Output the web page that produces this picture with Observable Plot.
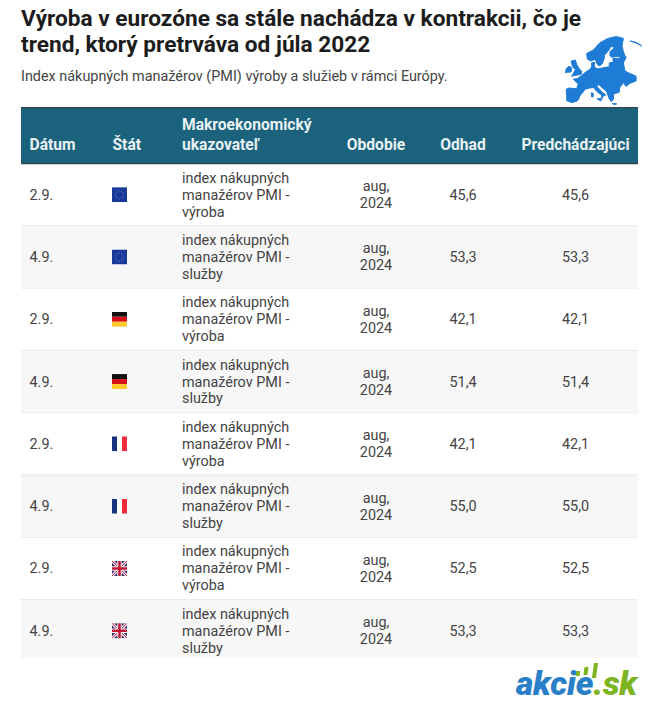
<!DOCTYPE html>
<html lang="sk">
<head>
<meta charset="utf-8">
<script src="https://cdn.jsdelivr.net/npm/d3@7"></script>
<script src="https://cdn.jsdelivr.net/npm/@observablehq/plot@0.6"></script>
<style>
  html, body { margin: 0; padding: 0; background: #fff; }
  body { width: 659px; height: 713px; position: relative; overflow: hidden; font-family: Roboto, sans-serif; }
  #head { height: 107px; box-sizing: border-box; padding: 6px 0 0 21px; }
  h1 { margin: 0; font: 700 22.65px/26px Roboto, sans-serif; color: #1c1c1c; width: 575px; }
  #sub { margin-top: 10px; font: 400 14.4px/18px Roboto, sans-serif; color: #444; }
  #map { position: absolute; left: 560px; top: 31px; }
  #chart svg { display: block; }
  #logo { position: absolute; left: 516px; top: 666px; font: italic 900 33.5px/36px Roboto, sans-serif; letter-spacing: -.2px; color: #2a80c8; white-space: nowrap; }
  #logo b { color: #7cb51f; font-weight: 900; }
  .bar { position: absolute; background: #7cb51f; width: 4px; transform: skewX(-8deg); }
</style>
</head>
<body>
<div id="head">
  <h1>Výroba v eurozóne sa stále nachádza v kontrakcii, čo je trend, ktorý pretrváva od júla 2022</h1>
  <div id="sub">Index nákupných manažérov (PMI) výroby a služieb v rámci Európy.</div>
</div>
<div id="map"></div>
<div id="chart"></div>
<div id="logo">akcie<b>.sk</b></div>
<div class="bar" style="left:576px;top:671px;height:5px"></div>
<div class="bar" style="left:584px;top:667px;height:8px"></div>
<div class="bar" style="left:593px;top:663px;height:15px"></div>
<script>
// ---- data ----
const columns = ["Dátum", "Štát", "Makroekonomický\nukazovateľ", "Obdobie", "Odhad", "Predchádzajúci"];
const dates = ["2.9.", "4.9.", "2.9.", "4.9.", "2.9.", "4.9.", "2.9.", "4.9."];
const countries = ["EU", "EU", "DE", "DE", "FR", "FR", "UK", "UK"];
const indicators = [
  "index nákupných\nmanažérov PMI -\nvýroba", "index nákupných\nmanažérov PMI -\nslužby",
  "index nákupných\nmanažérov PMI -\nvýroba", "index nákupných\nmanažérov PMI -\nslužby",
  "index nákupných\nmanažérov PMI -\nvýroba", "index nákupných\nmanažérov PMI -\nslužby",
  "index nákupných\nmanažérov PMI -\nvýroba", "index nákupných\nmanažérov PMI -\nslužby"
];
const period = "aug,\n2024";
const estimates = [45.6, 53.3, 42.1, 51.4, 42.1, 55.0, 52.5, 53.3];
const previous = [45.6, 53.3, 42.1, 51.4, 42.1, 55.0, 52.5, 53.3];

// Simplified outline of Europe, longitude / latitude
const mainland = [[-9,37],[-9.5,43],[-8,43.7],[-2,43.4],[-1,46],[-4.5,48.4],[-1.5,48.7],[1.5,50.5],[4,52],[7,53.5],[8.5,55],[8.5,57],[10.5,57.5],[10.5,55],[12,54],[14,54],[18.5,54.7],[21,55],[21,57],[24,57.5],[23.5,59.3],[28,59.5],[29.8,59.9],[27,60.5],[23,60],[21.5,60.8],[21.5,63],[25,65.2],[22,65.8],[21,64],[17.5,61],[17.5,59.5],[16,56.5],[14,55.4],[12.5,56.3],[11,59],[8,58],[5.5,59],[5,62],[10,64],[14,67.5],[20,70],[26,71],[31,70],[30,66],[31,63],[32,61],[33,60],[31,57],[32,53],[34,52],[40,50],[40,47.5],[35,46],[33,44.5],[31,46.5],[28.5,44],[28,41.5],[26,41],[24,40.5],[24,38],[22.5,36.5],[21,38],[19.5,41],[19,42],[15,44.5],[13.5,45.7],[12.3,44.5],[16,41.5],[18.5,40],[16.5,39.5],[16,38],[15.5,40],[12,42],[10,44],[7,43.7],[3.5,43],[3,42],[0,39.5],[-0.5,38],[-2,36.7],[-5.5,36],[-9,37]];
const britain = [[-5.5,50],[-3,53.5],[-5,55],[-6,58],[-3,58.5],[-2,56],[0,53.7],[1.5,52.5],[1,51],[-5.5,50]];
const ireland = [[-10,52],[-9.5,54],[-7.5,55.3],[-5.7,54.5],[-6,52.2],[-10,52]];
const sicily = [[12.5,38],[15.5,38.2],[15,36.8],[12.5,38]];
const sardinia = [[8.3,41],[9.7,41],[9.5,39],[8.5,39],[8.3,41]];
const crete = [[23.5,35.6],[26.3,35.3],[24,35],[23.5,35.6]];
const iceStreak = [[36,68.6],[40,67.6],[44,66],[40,67.9],[36,68.6]];
const landRings = [mainland, britain, ireland, sicily, sardinia, crete, iceStreak];

// ---- flags ----
const svgUri = (body) => "data:image/svg+xml," + encodeURIComponent(`<svg xmlns="http://www.w3.org/2000/svg" viewBox="0 0 15 15">${body}</svg>`);
const stars = d3.range(12).map((i) => `<circle cx="${7.5 + 4 * Math.cos(i * Math.PI / 6)}" cy="${7.5 + 4 * Math.sin(i * Math.PI / 6)}" r=".5" fill="#7f89b8"/>`).join("");
const flags = {
  EU: svgUri(`<rect width="15" height="15" fill="#17399b"/>${stars}`),
  DE: svgUri(`<rect width="15" height="5" fill="#111"/><rect y="5" width="15" height="5" fill="#d8101c"/><rect y="10" width="15" height="5" fill="#fdc92b"/>`),
  FR: svgUri(`<rect width="5" height="15" fill="#17307f"/><rect x="5" width="5" height="15" fill="#fff"/><rect x="10" width="5" height="15" fill="#ee2a3c"/>`),
  UK: svgUri(`<rect width="15" height="15" fill="#2d2a6e"/><path d="M0 0L15 15M15 0L0 15" stroke="#eee" stroke-width="3"/><path d="M0 0L15 15M15 0L0 15" stroke="#c8163a" stroke-width="1"/><path d="M7.5 0V15M0 7.5H15" stroke="#eee" stroke-width="4.5"/><path d="M7.5 0V15M0 7.5H15" stroke="#c8163a" stroke-width="2.5"/>`)
};

// ---- tables built from the arrays ----
const rows = dates.map((d, i) => ({
  i, date: d, country: countries[i], indicator: indicators[i], period,
  estimate: estimates[i].toFixed(1).replace(".", ","),
  prev: previous[i].toFixed(1).replace(".", ",")
}));
const headerCells = columns.map((label, col) => ({label, col}));
const rowBottom = (r) => r.i === rows.length - 1 ? r.i + 0.95 : r.i + 1;
const font = "Roboto, sans-serif";
const ink = "#444";
const bodyText = (value, col, textAnchor) => Plot.text(rows, {
  x: () => col, y: (r) => r.i + 0.492, text: value, textAnchor, lineAnchor: "middle",
  fontFamily: font, fontSize: 14.4, lineHeight: 1.18, fill: ink
});
const headerText = (cells, textAnchor) => Plot.text(cells, {
  x: "col", y: () => -0.215, text: "label", lineAnchor: "bottom", textAnchor,
  fontFamily: font, fontSize: 15.6, fontWeight: 700, lineHeight: 1.27, fill: "#e9f1f4", letterSpacing: 0.25
});
const columnStops = d3.scaleLinear([-1, 0, 1, 2, 3, 4, 5, 6], [21, 29, 112, 181.5, 375.5, 462.5, 575, 638]);

const chart = Plot.plot({
  width: 659, height: 606, margin: 0, style: {background: "transparent"},
  x: {domain: [0, 659], range: [0, 659], transform: (c) => columnStops(c), axis: null},
  y: {domain: [-0.899, 8.828], range: [0, 606], axis: null},
  marks: [
    Plot.rect([0], {x1: () => -1, x2: () => 6, y1: () => -0.899, y2: () => 0, fill: "#1b637d"}),
    Plot.ruleY([-0.899, 0], {x1: () => -1, x2: () => 6, stroke: "#33454d", strokeWidth: 1.5}),
    Plot.rect(rows.filter((r) => r.i % 2 === 1), {x1: () => -1, x2: () => 6, y1: "i", y2: rowBottom, fill: "#f7f7f8"}),
    Plot.ruleY(rows.slice(0, -1), {x1: () => -1, x2: () => 6, y: (r) => r.i + 1, stroke: "#eaeaea"}),
    headerText(headerCells.slice(0, 3), "start"),
    headerText(headerCells.slice(3), "middle"),
    bodyText("date", 0, "start"),
    Plot.image(rows, {x: () => 1, y: (r) => r.i + 0.5, src: (r) => flags[r.country], width: 15, height: 15, dx: 7}),
    bodyText("indicator", 2, "start"),
    bodyText("period", 3, "middle"),
    bodyText("estimate", 4, "middle"),
    bodyText("prev", 5, "middle")
  ]
});
document.getElementById("chart").append(chart);

const landPoints = landRings.flatMap((ring, z) => ring.map(([lon, lat]) => ({lon, lat, z})));
const map = Plot.plot({
  width: 90, height: 80, margin: 0,
  x: {domain: [-10, 41], range: [5, 77], axis: null},
  y: {domain: [35, 71], range: [73, 5], axis: null},
  marks: [Plot.line(landPoints, {x: "lon", y: "lat", z: "z", fill: "#1f7cd6", stroke: "#1f7cd6", strokeWidth: 1})]
});
document.getElementById("map").append(map);
</script>
</body>
</html>
